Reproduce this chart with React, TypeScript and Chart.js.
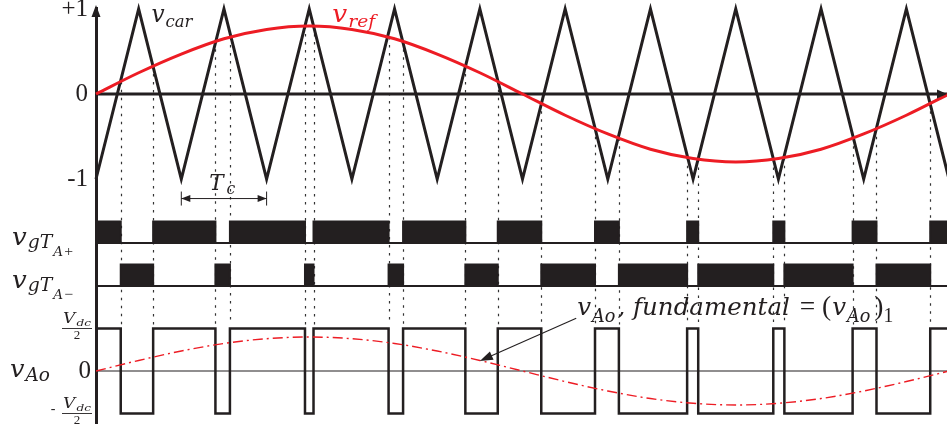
import React, { useEffect, useRef } from 'react';
import { Chart, registerables } from 'chart.js';

Chart.register(...registerables);

const BLACK = '#231f20';
const RED = '#ed1c24';
const SERIF = '"Liberation Serif", "Times New Roman", serif';
const SERIF_IT = '"DejaVu Serif", serif';

// ---- data (time in carrier periods Tc) ----
const carrierTimes = [0, 0.5, 1, 1.5, 2, 2.5, 3, 3.5, 4, 4.5, 5, 5.5, 6, 6.5, 7, 7.5, 8, 8.5, 9, 9.5, 10];
const carrierValues = [-1, 1, -1, 1, -1, 1, -1, 1, -1, 1, -1, 1, -1, 1, -1, 1, -1, 1, -1, 1, -1];

const refTimes = [0, 0.5, 1, 1.5, 2, 2.5, 3, 3.5, 4, 4.5, 5, 5.5, 6, 6.5, 7, 7.5, 8, 8.5, 9, 9.5, 10];
const refValues = [0, 0.25, 0.47, 0.65, 0.76, 0.8, 0.76, 0.65, 0.47, 0.25, 0, -0.25, -0.47, -0.65, -0.76, -0.8, -0.76, -0.65, -0.47, -0.25, 0];

const switchTimes = [0.29, 0.67, 1.4, 1.57, 2.45, 2.55, 3.43, 3.6, 4.33, 4.71, 5.22, 5.85, 6.13, 6.93, 7.06, 7.94, 8.07, 8.87, 9.15, 9.78];
const crossLevels = [0.145, 0.33, 0.62, 0.67, 0.8, 0.8, 0.67, 0.62, 0.33, 0.145, -0.11, -0.41, -0.52, -0.75, -0.77, -0.77, -0.75, -0.52, -0.41, -0.11];

const gatePlusLevels = [1, 0, 1, 0, 1, 0, 1, 0, 1, 0, 1, 0, 1, 0, 1, 0, 1, 0, 1, 0, 1];
const gateMinusLevels = [0, 1, 0, 1, 0, 1, 0, 1, 0, 1, 0, 1, 0, 1, 0, 1, 0, 1, 0, 1, 0];
const vAoLevels = [0.5, -0.5, 0.5, -0.5, 0.5, -0.5, 0.5, -0.5, 0.5, -0.5, 0.5, -0.5, 0.5, -0.5, 0.5, -0.5, 0.5, -0.5, 0.5, -0.5, 0.5];

const fundTimes = [0, 0.5, 1, 1.5, 2, 2.5, 3, 3.5, 4, 4.5, 5, 5.5, 6, 6.5, 7, 7.5, 8, 8.5, 9, 9.5, 10];
const fundValues = [0, 0.124, 0.235, 0.324, 0.38, 0.4, 0.38, 0.324, 0.235, 0.124, 0, -0.124, -0.235, -0.324, -0.38, -0.4, -0.38, -0.324, -0.235, -0.124, 0];

const topTicks = [-1, 0, 1];
const topTickLabels = ['-1', '0', '+1'];

const END_T = 10;
const tcSpan = [1, 2];
const tcLevel = -1.23;
const noteFrom = { t: 5.63, v: 0.62 };
const noteTo = { t: 4.5, v: 0.118 };
const noteBaseline = 0.66;

// ---- layout helpers ----
const W = 947;
const H = 430;
const AXIS_X = 96;
const AREA_TOP = 8;
const AREA_BOTTOM = 423;
const PX_PER_T = 85.3;

function rangeFor(v1: number, p1: number, v2: number, p2: number) {
  const k = (p2 - p1) / (v1 - v2);
  return { min: v1 - (AREA_BOTTOM - p1) / k, max: v1 + (p1 - AREA_TOP) / k };
}

const zip = (xs: number[], ys: number[]) => xs.map((x, i) => ({ x, y: ys[i] }));
const stepData = (levels: number[]) => [
  { x: 0, y: levels[0] },
  ...switchTimes.map((t, i) => ({ x: t, y: levels[i + 1] })),
  { x: END_T, y: levels[levels.length - 1] },
];

type Part = { t: string; s: number; it?: boolean; dy?: number; dx?: number };
const fontOf = (p: Part) => (p.it ? `italic ${p.s}px ${SERIF_IT}` : `${p.s}px ${SERIF}`);

function measure(ctx: CanvasRenderingContext2D, parts: Part[]) {
  let w = 0;
  for (const p of parts) {
    ctx.font = fontOf(p);
    w += ctx.measureText(p.t).width + (p.dx || 0);
  }
  return w;
}

function drawMath(ctx: CanvasRenderingContext2D, parts: Part[], x: number, y: number, color: string, width?: number) {
  ctx.save();
  ctx.fillStyle = color;
  ctx.textAlign = 'left';
  ctx.textBaseline = 'alphabetic';
  const natural = measure(ctx, parts);
  const sx = width ? width / natural : 1;
  ctx.translate(x, y);
  ctx.scale(sx, 1);
  let cx = 0;
  for (const p of parts) {
    ctx.font = fontOf(p);
    cx += p.dx || 0;
    ctx.fillText(p.t, cx, p.dy || 0);
    cx += ctx.measureText(p.t).width;
  }
  ctx.restore();
}

function arrowHead(ctx: CanvasRenderingContext2D, tipX: number, tipY: number, fromX: number, fromY: number, len: number, half: number) {
  const a = Math.atan2(tipY - fromY, tipX - fromX);
  const bx = tipX - len * Math.cos(a);
  const by = tipY - len * Math.sin(a);
  ctx.beginPath();
  ctx.moveTo(tipX, tipY);
  ctx.lineTo(bx + half * Math.sin(a), by - half * Math.cos(a));
  ctx.lineTo(bx - half * Math.sin(a), by + half * Math.cos(a));
  ctx.closePath();
  ctx.fill();
}

function drawFraction(ctx: CanvasRenderingContext2D, cx: number, barY: number, neg: boolean) {
  ctx.save();
  ctx.strokeStyle = BLACK;
  ctx.fillStyle = BLACK;
  ctx.lineWidth = 0.9;
  ctx.beginPath();
  ctx.moveTo(cx - 15, barY);
  ctx.lineTo(cx + 15, barY);
  ctx.stroke();
  const num: Part[] = [
    { t: 'V', s: 14, it: true },
    { t: 'dc', s: 10, it: true, dy: 3, dx: 1 },
  ];
  drawMath(ctx, num, cx - 14, barY - 6, BLACK, 28);
  ctx.font = `13px ${SERIF}`;
  ctx.textAlign = 'center';
  ctx.textBaseline = 'alphabetic';
  ctx.fillText('2', cx, barY + 10);
  if (neg) {
    ctx.font = `14px ${SERIF}`;
    ctx.textAlign = 'center';
    ctx.textBaseline = 'middle';
    ctx.fillText('-', cx - 24, barY - 4);
  }
  ctx.restore();
}

const decorPlugin = {
  id: 'decor',
  beforeDatasetsDraw(chart: any) {
    const { ctx, scales } = chart;
    const x = scales.x;
    const yTop = scales.yTop;
    const yAo = scales.yAo;
    ctx.save();
    ctx.strokeStyle = '#333';
    ctx.lineWidth = 1.2;
    ctx.setLineDash([2.5, 5.5]);
    switchTimes.forEach((t, i) => {
      const px = Math.round(x.getPixelForValue(t)) + 0.5;
      ctx.beginPath();
      ctx.moveTo(px, yTop.getPixelForValue(crossLevels[i]));
      ctx.lineTo(px, yAo.getPixelForValue(0.5) - 4);
      ctx.stroke();
    });
    ctx.restore();
  },
  afterDatasetsDraw(chart: any) {
    const { ctx, scales, chartArea } = chart;
    const x = scales.x;
    const yTop = scales.yTop;
    const yGp = scales.yGp;
    const yGn = scales.yGn;
    const yAo = scales.yAo;
    ctx.save();
    ctx.fillStyle = BLACK;
    ctx.strokeStyle = BLACK;

    // axis arrow heads
    const ax = chartArea.left;
    arrowHead(ctx, ax, 5, ax, 20, 12, 4.5);
    const zy = yTop.getPixelForValue(0);
    arrowHead(ctx, chartArea.right, zy, chartArea.right - 20, zy, 10, 4.5);

    // Tc dimension arrow
    const ty = yTop.getPixelForValue(tcLevel);
    const tx1 = x.getPixelForValue(tcSpan[0]);
    const tx2 = x.getPixelForValue(tcSpan[1]);
    ctx.lineWidth = 1;
    ctx.beginPath();
    ctx.moveTo(tx1, ty);
    ctx.lineTo(tx2, ty);
    ctx.moveTo(tx1, ty - 7);
    ctx.lineTo(tx1, ty + 7);
    ctx.moveTo(tx2, ty - 7);
    ctx.lineTo(tx2, ty + 7);
    ctx.stroke();
    arrowHead(ctx, tx1, ty, tx2, ty, 9, 3.5);
    arrowHead(ctx, tx2, ty, tx1, ty, 9, 3.5);
    drawMath(ctx, [{ t: 'T', s: 22, it: true }, { t: 'c', s: 16, it: true, dy: 4, dx: 3 }], tx1 + 28, ty - 9, BLACK, 26);

    // annotation arrow
    const fx = x.getPixelForValue(noteFrom.t);
    const fy = yAo.getPixelForValue(noteFrom.v);
    const ex = x.getPixelForValue(noteTo.t);
    const ey = yAo.getPixelForValue(noteTo.v);
    ctx.lineWidth = 1.1;
    ctx.beginPath();
    ctx.moveTo(fx, fy);
    ctx.lineTo(ex + (fx - ex) * 0.08, ey + (fy - ey) * 0.08);
    ctx.stroke();
    arrowHead(ctx, ex, ey, fx, fy, 13, 4.5);

    const note: Part[] = [
      { t: 'v', s: 25, it: true },
      { t: 'Ao', s: 18, it: true, dy: 7, dx: 1 },
      { t: ', ', s: 25, it: true, dx: 2 },
      { t: 'fundamental', s: 25, it: true },
      { t: ' = ', s: 28, dx: 3 },
      { t: '(', s: 28 },
      { t: 'v', s: 25, it: true, dx: 1 },
      { t: 'Ao', s: 18, it: true, dy: 7, dx: 1 },
      { t: ')', s: 28, dx: 4 },
      { t: '1', s: 20, dy: 7 },
    ];
    drawMath(ctx, note, fx + 1, yAo.getPixelForValue(noteBaseline), BLACK, 316);

    // curve labels
    drawMath(ctx, [{ t: 'v', s: 24, it: true }, { t: 'car', s: 17, it: true, dy: 5, dx: 1 }], x.getPixelForValue(0.65), yTop.getPixelForValue(0.85), BLACK, 41);
    drawMath(ctx, [{ t: 'v', s: 24, it: true }, { t: 'ref', s: 17, it: true, dy: 5, dx: 1 }], x.getPixelForValue(2.77), yTop.getPixelForValue(0.85), RED, 43);

    // left labels
    const gp: Part[] = [
      { t: 'v', s: 25, it: true },
      { t: 'g', s: 18, it: true, dy: 3, dx: 1 },
      { t: 'T', s: 18, it: true, dy: 3 },
      { t: 'A', s: 13, it: true, dy: 11, dx: 1 },
      { t: '+', s: 15, dy: 11, dx: 1 },
    ];
    drawMath(ctx, gp, 12, yGp.getPixelForValue(0) + 2, BLACK, 61);
    const gn: Part[] = [
      { t: 'v', s: 25, it: true },
      { t: 'g', s: 18, it: true, dy: 3, dx: 1 },
      { t: 'T', s: 18, it: true, dy: 3 },
      { t: 'A', s: 13, it: true, dy: 11, dx: 1 },
      { t: '\u2212', s: 15, dy: 11, dx: 1 },
    ];
    drawMath(ctx, gn, 12, yGn.getPixelForValue(0) + 2, BLACK, 61);
    drawMath(ctx, [{ t: 'v', s: 25, it: true }, { t: 'Ao', s: 18, it: true, dy: 4, dx: 1 }], 10, yAo.getPixelForValue(0) + 6, BLACK, 40);

    ctx.font = `25px ${SERIF}`;
    ctx.textAlign = 'right';
    ctx.textBaseline = 'middle';
    ctx.fillStyle = BLACK;
    ctx.fillText('0', 91, yAo.getPixelForValue(0));

    drawFraction(ctx, 77, yAo.getPixelForValue(0.5), false);
    drawFraction(ctx, 77, yAo.getPixelForValue(-0.5), true);

    ctx.restore();
  },
};

export default function App() {
  const canvasRef = useRef<HTMLCanvasElement>(null);

  useEffect(() => {
    document.body.style.margin = '0';
    const canvas = canvasRef.current;
    if (!canvas) return;

    const xMax = (W - AXIS_X) / PX_PER_T;
    const rTop = rangeFor(1, 9, -1, 179);
    const rGp = rangeFor(1, 221.5, 0, 243);
    const rGn = rangeFor(1, 264.5, 0, 286);
    const rAo = rangeFor(0.5, 328.5, -0.5, 413.5);

    const base = { pointRadius: 0, pointHoverRadius: 0, tension: 0, borderJoinStyle: 'miter' as const };

    const chart = new Chart(canvas, {
      type: 'line',
      data: {
        datasets: [
          { ...base, label: 'v_ref', data: zip(refTimes, refValues), yAxisID: 'yTop', borderColor: RED, borderWidth: 3, cubicInterpolationMode: 'monotone', clip: false as any, order: 0 },
          { ...base, label: 'v_car', data: zip(carrierTimes, carrierValues), yAxisID: 'yTop', borderColor: BLACK, borderWidth: 3, clip: false as any, order: 1 },
          { ...base, label: 'zero', data: [{ x: 0, y: 0 }, { x: xMax, y: 0 }], yAxisID: 'yTop', borderColor: BLACK, borderWidth: 3, order: 2 },
          { ...base, label: 'gT+', data: stepData(gatePlusLevels), yAxisID: 'yGp', stepped: true, borderColor: BLACK, borderWidth: 2, backgroundColor: BLACK, fill: { value: 0 }, order: 3 },
          { ...base, label: 'gT+ base', data: [{ x: 0, y: 0 }, { x: xMax, y: 0 }], yAxisID: 'yGp', borderColor: BLACK, borderWidth: 2, order: 4 },
          { ...base, label: 'gT-', data: stepData(gateMinusLevels), yAxisID: 'yGn', stepped: true, borderColor: BLACK, borderWidth: 2, backgroundColor: BLACK, fill: { value: 0 }, order: 3 },
          { ...base, label: 'gT- base', data: [{ x: 0, y: 0 }, { x: xMax, y: 0 }], yAxisID: 'yGn', borderColor: BLACK, borderWidth: 2, order: 4 },
          { ...base, label: 'vAo', data: stepData(vAoLevels), yAxisID: 'yAo', stepped: true, borderColor: BLACK, borderWidth: 2.5, order: 1 },
          { ...base, label: 'vAo zero', data: [{ x: 0, y: 0 }, { x: xMax, y: 0 }], yAxisID: 'yAo', borderColor: BLACK, borderWidth: 1.2, order: 4 },
          { ...base, label: 'fund', data: zip(fundTimes, fundValues), yAxisID: 'yAo', borderColor: RED, borderWidth: 1.4, borderDash: [10, 4, 2, 4], cubicInterpolationMode: 'monotone', order: 0 },
        ] as any,
      },
      options: {
        responsive: false,
        animation: false,
        events: [],
        layout: { padding: { top: AREA_TOP, bottom: H - AREA_BOTTOM, left: 0, right: 0 } },
        plugins: { legend: { display: false }, tooltip: { enabled: false } },
        scales: {
          x: { type: 'linear', min: 0, max: xMax, display: false },
          yTop: {
            type: 'linear',
            position: 'left',
            min: rTop.min,
            max: rTop.max,
            afterBuildTicks: (s: any) => {
              s.ticks = topTicks.map((v) => ({ value: v }));
            },
            afterFit: (s: any) => {
              s.width = AXIS_X;
              s.paddingTop = 0;
              s.paddingBottom = 0;
            },
            ticks: {
              autoSkip: false,
              padding: 8,
              color: BLACK,
              font: { family: SERIF, size: 25 },
              callback: (v: any) => topTickLabels[topTicks.indexOf(Number(v))] ?? '',
            },
            grid: { display: false, drawTicks: false },
            border: { display: true, width: 3, color: BLACK },
          },
          yGp: { type: 'linear', display: false, min: rGp.min, max: rGp.max },
          yGn: { type: 'linear', display: false, min: rGn.min, max: rGn.max },
          yAo: { type: 'linear', display: false, min: rAo.min, max: rAo.max },
        },
      } as any,
      plugins: [decorPlugin],
    });

    return () => chart.destroy();
  }, []);

  return (
    <div style={{ width: W, height: H }}>
      <canvas ref={canvasRef} width={W} height={H} style={{ display: 'block' }} />
    </div>
  );
}
